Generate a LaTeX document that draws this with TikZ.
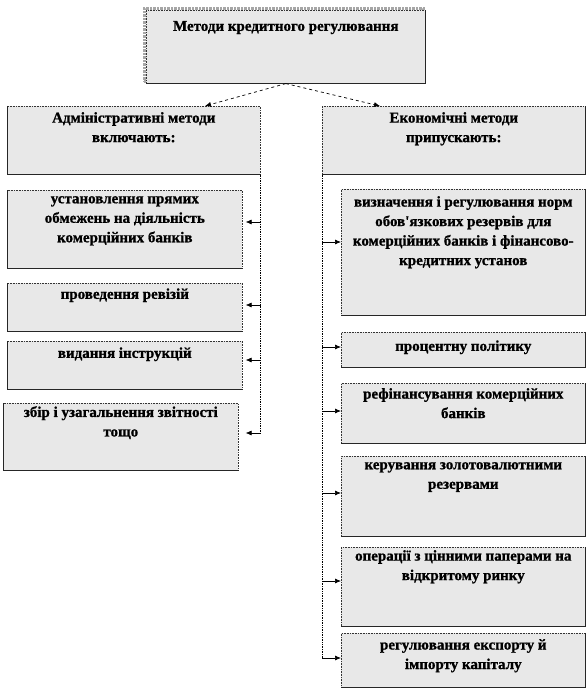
\documentclass[tikz,border=0pt]{standalone}
\usepackage{fontspec}
\setmainfont{Liberation Serif}[BoldFeatures={FakeBold=1}]
\usetikzlibrary{arrows.meta,positioning}

\begin{document}
\begin{tikzpicture}[x=1pt,y=-1pt,
  box/.style={draw=black!80, fill=black!9, densely dotted, line width=0.6pt, inner sep=0pt, anchor=north west},
  solidedge/.style={draw=black!85, solid, line width=0.9pt},
  lbox/.style={box, append after command={(\tikzlastnode.north west) edge[solidedge] (\tikzlastnode.south west)
      (\tikzlastnode.south west) edge[solidedge] (\tikzlastnode.south east)}},
  rbox/.style={box, append after command={(\tikzlastnode.south west) edge[solidedge] (\tikzlastnode.south east)
      (\tikzlastnode.south east) edge[solidedge] (\tikzlastnode.north east)}},
  txt/.style={anchor=north, align=center, inner sep=0pt, execute at begin node=\strut,
      font=\bfseries\fontsize{15}{19.5}\selectfont},
  trunk/.style={densely dotted, line width=0.7pt},
  tip/.style={-{Latex[length=6pt,width=5pt]}, line width=0.7pt}]

    \useasboundingbox (0,0) rectangle (588,690);

    % головний блок
    \node[rbox, minimum width=279pt, minimum height=73pt,
          preaction={draw=black!35, line width=2.5pt, densely dotted, transform canvas={shift={(-2pt,2pt)}}}]
          (top) at (146,10) {};
    \node[txt, below=7pt of top.north] (toptxt) {Методи кредитного регулювання};

    % заголовки груп
    \node[lbox, minimum width=253pt, minimum height=68pt] (lhead) at (7,106) {};
    \node[txt, below=6pt of lhead.north] {Адміністративні методи\\ включають:};
    \node[rbox, minimum width=263pt, minimum height=68pt] (rhead) at (322,106) {};
    \node[txt, below=6pt of rhead.north] {Економічні методи\\ припускають:};

    \draw[dashed, tip] (top.south) -- (lhead.north -| 205,0);
    \draw[dashed, tip] (top.south) -- (rhead.north -| 380,0);

    % адміністративні методи
    \node[lbox, minimum width=235pt, minimum height=78pt] (l1) at (7,190) {};
    \node[txt, below=6pt of l1.north] {установлення прямих\\ обмежень на діяльність\\ комерційних банків};
    \node[lbox, minimum width=235pt, minimum height=48pt] (l2) at (7,283) {};
    \node[txt, below=2pt of l2.north] {проведення ревізій};
    \node[lbox, minimum width=235pt, minimum height=48pt] (l3) at (7,341) {};
    \node[txt, below=3pt of l3.north] {видання інструкцій};
    \node[lbox, minimum width=235pt, minimum height=67pt] (l4) at (3,403) {};
    \node[txt, below=3pt of l4.north] {збір і узагальнення звітності\\ тощо};

    % економічні методи
    \node[rbox, minimum width=244pt, minimum height=126pt] (r1) at (341,189) {};
    \node[txt, below=7pt of r1.north] {визначення і регулювання норм\\ обов\textquotesingle язкових резервів для\\ комерційних банків і фінансово-\\ кредитних установ};
    \node[rbox, minimum width=244pt, minimum height=35pt] (r2) at (341,332) {};
    \node[txt, below=5pt of r2.north] {процентну політику};
    \node[rbox, minimum width=244pt, minimum height=60pt] (r3) at (341,383) {};
    \node[txt, below=5pt of r3.north] {рефінансування комерційних\\ банків};
    \node[rbox, minimum width=244pt, minimum height=80pt] (r4) at (341,456) {};
    \node[txt, below=6pt of r4.north] {керування золотовалютними\\ резервами};
    \node[rbox, minimum width=244pt, minimum height=79pt] (r5) at (341,547) {};
    \node[txt, below=3pt of r5.north] {операції з цінними паперами на\\ відкритому ринку};
    \node[rbox, minimum width=244pt, minimum height=54pt] (r6) at (341,633) {};
    \node[txt, below=6pt of r6.north] {регулювання експорту й\\ імпорту капіталу};

    % лінії зв'язку
    \coordinate (lend) at (lhead.south east |- 0,433);
    \coordinate (rend) at (rhead.south west |- 0,658);
    \draw[trunk] (lhead.south east) -- (lend);
    \draw[trunk] (rhead.south west) -- (rend);

    \foreach \n/\y in {l1/222, l2/305, l3/360}
        \draw[tip] (lend |- 0,\y) -- ([xshift=3pt]\n.east |- 0,\y);
    \draw[tip] (lend) -- ([xshift=7pt]l4.east |- lend);

    \foreach \n/\y in {r1/242, r2/347, r3/411, r4/493, r5/581, r6/658}
        \draw[tip] (rend |- 0,\y) -- (\n.west |- 0,\y);
\end{tikzpicture}
\end{document}
